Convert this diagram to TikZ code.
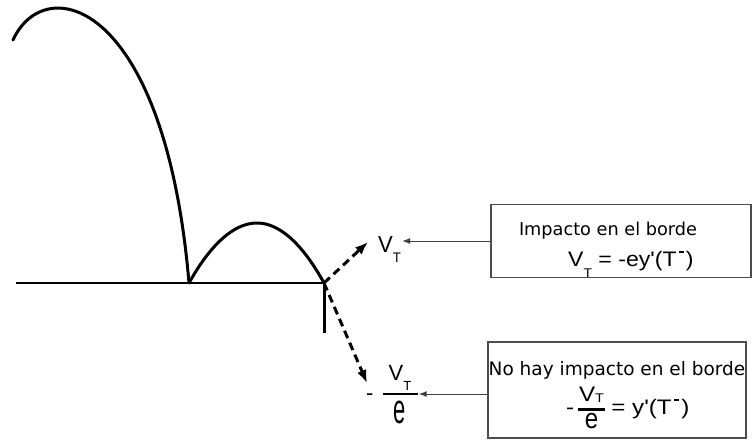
\documentclass[tikz,border=0pt]{standalone}
\usepackage{fontspec}
\usepackage{graphicx}
\setmainfont{DejaVu Sans}
\newfontfamily\formulafont{Liberation Sans}
\usetikzlibrary{arrows.meta,positioning}

% V con subindice T (bajada del subindice)
\newcommand{\velT}[1][0.48em]{V\raisebox{-#1}{\scalebox{0.6}{T}}}
\newcommand{\tmenos}{T\hspace{0.1em}\raisebox{0.6em}{\rule{0.2em}{0.12em}}\hspace{0.1em}}
% V_T / e: ancho barra, estirado e, hueco arriba, hueco abajo, subida, bajada subindice
\newcommand{\velfrac}[6]{\raisebox{#5}{\vbox{\offinterlineskip\halign{\hfil##\hfil\cr
  \velT[#6]\cr\noalign{\kern#3}\rule{#1}{2.5pt}\cr\noalign{\kern#4}\scalebox{1}[#2]{e}\cr}}}}

\begin{document}
\begin{tikzpicture}[x=1pt, y=-1pt,
    tray/.style={line width=3pt},
    suelo/.style={line width=2pt},
    vel/.style={line width=3pt, dash pattern=on 8pt off 5pt, -{Latex[length=13pt,width=10pt]}},
    guia/.style={line width=1pt, black!75, -{Latex[length=8pt,width=6pt]}},
    caja/.style={draw=black!70, line width=1.2pt, inner sep=0pt},
    titulo/.style={inner sep=0pt, anchor=base},
    formula/.style={font=\formulafont\fontsize{21}{24}\selectfont, inner sep=0pt}
  ]
  \useasboundingbox (0,0) rectangle (752,445);

  % suelo y borde
  \coordinate (O) at (16,283);
  \coordinate (S) at (13,40);
  \coordinate (L) at (189,283);
  \coordinate (W) at (324,283);
  \coordinate (Wb) at (324,333);
  \draw[suelo] (O) -- (W);
  \draw[tray] (W) -- (Wb);

  % trayectoria
  \draw[tray, line cap=round] (S) .. controls (45,-30) and (165,0) .. (L);
  \draw[tray] (L) parabola bend (257,223) (W);

  % velocidades
  \node[formula, font=\formulafont\fontsize{22}{24}\selectfont, anchor=base west, inner sep=1pt] (vt) at (377,252) {\scalebox{1}[1.05]{\velT[0.44em]}};
  \node[formula, font=\formulafont\fontsize{22}{24}\selectfont, anchor=base west, inner sep=1pt] (vte) at (365,400)
    {-\hspace{9pt}\velfrac{35pt}{1.9}{2.5pt}{5.5pt}{-23pt}{0.43em}};
  \coordinate (vtem) at ([yshift=6pt]vte.base east);
  \coordinate (a1) at (368,242);
  \coordinate (a2) at (367,383);
  \draw[vel] (W) -- (a1);
  \draw[vel] (W) -- (a2);

  % cajas
  \node[caja, minimum width=260pt, minimum height=73pt] (imp) at (621,241) {};
  \node[titulo, font=\fontsize{17.7}{20}\selectfont] (impt) at (608,235) {Impacto en el borde};
  \node[formula, anchor=base west] (impf) at (568,266) {\scalebox{1.1}[1]{\velT[0.53em]\ = -ey'(\tmenos)}};
  \node[caja, minimum width=258pt, minimum height=96pt] (nohay) at (617,390) {};
  \node[titulo, font=\fontsize{18.5}{22}\selectfont] (nohayt) at (617,375) {No hay impacto en el borde};
  \node[formula, anchor=base west] (nohayf) at (566,414)
    {\scalebox{1.15}[1]{-\,\velfrac{23pt}{1.35}{6pt}{2pt}{-14pt}{0.05em}\ = y'(\tmenos)}};

  \draw[guia] (imp.west) -- (imp.west -| vt.east);
  \draw[guia] (nohay.west |- vtem) -- (vtem);
\end{tikzpicture}
\end{document}
